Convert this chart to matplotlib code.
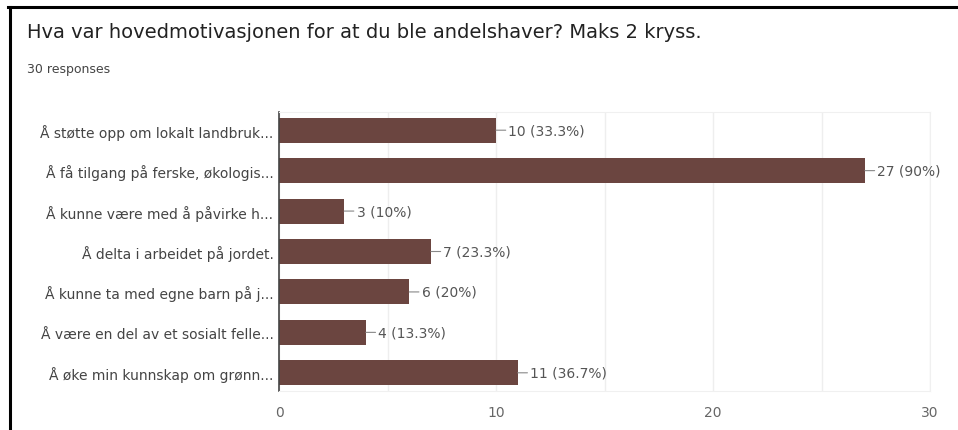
import matplotlib.pyplot as plt
from matplotlib.lines import Line2D

categories = [
    "Å støtte opp om lokalt landbruk...",
    "Å få tilgang på ferske, økologis...",
    "Å kunne være med å påvirke h...",
    "Å delta i arbeidet på jordet.",
    "Å kunne ta med egne barn på j...",
    "Å være en del av et sosialt felle...",
    "Å øke min kunnskap om grønn...",
]
counts = [10, 27, 3, 7, 6, 4, 11]
value_labels = ["10 (33.3%)", "27 (90%)", "3 (10%)", "7 (23.3%)",
                "6 (20%)", "4 (13.3%)", "11 (36.7%)"]
x_ticks = [0, 10, 20, 30]

fig = plt.figure(figsize=(9.58, 4.31), dpi=100)
ax = fig.add_axes([279 / 958, 1 - 392 / 431, 651 / 958, 279 / 431])

pos = list(range(len(categories)))
ax.barh(pos, counts, height=0.62, color="#6b4540")

for i, (v, lab) in enumerate(zip(counts, value_labels)):
    ax.annotate(lab, xy=(v, i), xytext=(9, 0), textcoords="offset points",
                va="center", ha="left", fontsize=10, color="#555555",
                arrowprops=dict(arrowstyle="-", color="#888888", lw=0.8,
                                shrinkA=0, shrinkB=0))

ax.set_xlim(0, 30)
ax.set_ylim(6.45, -0.45)
ax.set_yticks(pos)
ax.set_yticklabels(categories, fontsize=10, color="#444444")
ax.set_xticks(x_ticks)
ax.set_xticklabels([str(t) for t in x_ticks], fontsize=10, color="#666666")
ax.set_xticks([5, 15, 25], minor=True)
ax.tick_params(axis="both", which="both", length=0, pad=4)
ax.tick_params(axis="x", pad=10)
ax.grid(axis="x", which="both", color="#eeeeee", lw=1)
ax.set_axisbelow(True)
for s in ["top", "right", "bottom"]:
    ax.spines[s].set_color("#f0f0f0")
ax.spines["left"].set_color("#444444")
ax.spines["left"].set_linewidth(1.2)

fig.text(27 / 958, 1 - 32 / 431, "Hva var hovedmotivasjonen for at du ble andelshaver? Maks 2 kryss.",
         fontsize=14, color="#222222", va="center", ha="left")
fig.text(27 / 958, 1 - 69 / 431, "30 responses", fontsize=9, color="#444444",
         va="center", ha="left")

# frame around the screenshot
fig.add_artist(Line2D([8 / 958, 1], [1 - 8 / 431, 1 - 8 / 431], color="black", lw=2.2,
                      transform=fig.transFigure))
fig.add_artist(Line2D([9.5 / 958, 9.5 / 958], [1 - 8 / 431, 0], color="black", lw=2.2,
                      transform=fig.transFigure))

fig.savefig("out.png", dpi=100)
